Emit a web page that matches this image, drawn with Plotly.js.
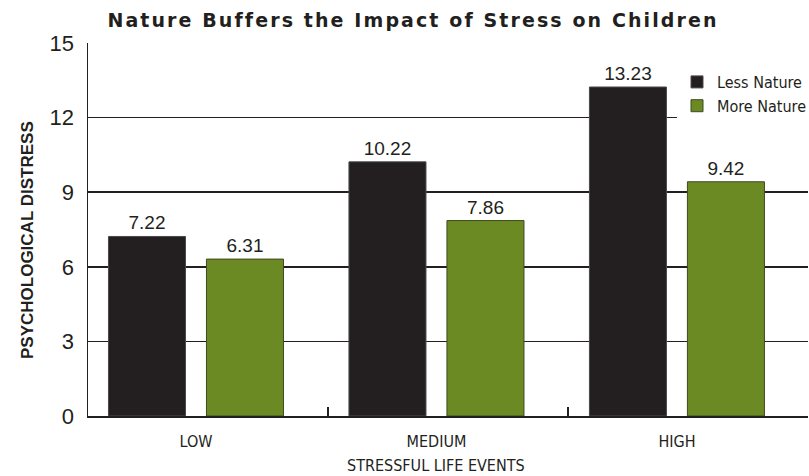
<!DOCTYPE html>
<html>
<head>
<meta charset="utf-8">
<script src="https://cdn.plot.ly/plotly-3.0.1.min.js"></script>
<style>
html,body{margin:0;padding:0;background:#fff;}
#chart{width:809px;height:476px;}
#chart .gtitle{letter-spacing:2.1px;}
</style>
</head>
<body>
<div id="chart"></div>
<script>
const categories = ['LOW', 'MEDIUM', 'HIGH'];
const lessNature = [7.22, 10.22, 13.23];
const moreNature = [6.31, 7.86, 9.42];
const seriesNames = ['Less Nature', 'More Nature'];
const yTicks = [0, 3, 6, 9, 12, 15];
const boundaryTicks = [1, 2, 3];

const ink = '#231f20';
const green = '#6b8a23';
const narrow = 'Liberation Sans Narrow, DejaVu Sans Condensed, Arial Narrow, sans-serif';
const sans = 'Liberation Sans, Arial, Helvetica, sans-serif';

const common = {
  type: 'bar',
  x: categories,
  texttemplate: '%{y:.2f}',
  textposition: 'outside',
  cliponaxis: false,
  textfont: {family: sans, size: 19, color: ink},
  hoverinfo: 'skip'
};

const traces = [
  Object.assign({}, common, {
    name: seriesNames[0], y: lessNature,
    marker: {color: ink, line: {color: '#4a4a4a', width: 1}}
  }),
  Object.assign({}, common, {
    name: seriesNames[1], y: moreNature,
    marker: {color: green, line: {color: '#3f4a20', width: 1}}
  }),
  {
    type: 'scatter', mode: 'markers', x: [], y: [],
    xaxis: 'x2', yaxis: 'y', showlegend: false, hoverinfo: 'skip'
  }
];

const layout = {
  width: 809, height: 476,
  margin: {l: 88, r: 1, t: 43, b: 60, pad: 0, autoexpand: false},
  paper_bgcolor: '#fff', plot_bgcolor: '#fff',
  barmode: 'group',
  bargap: 0.185,
  bargroupgap: 0.214,
  showlegend: true,
  legend: {
    x: (677 - 88) / 720, xanchor: 'left', y: 0.941, yanchor: 'top',
    bgcolor: '#fff', borderwidth: 0,
    font: {family: narrow, size: 16, color: ink},
    tracegroupgap: 0
  },
  title: {
    text: 'Nature Buffers the Impact of Stress on Children',
    font: {family: 'DejaVu Sans, sans-serif', size: 19, color: ink, weight: 'bold'},
    x: 413 / 809, xanchor: 'center', xref: 'container',
    y: 1 - 20/476, yanchor: 'middle', yref: 'container'
  },
  xaxis: {
    type: 'category',
    range: [-0.449, 2.545],
    showgrid: false, zeroline: false,
    showline: true, linecolor: ink, linewidth: 2,
    ticks: '', ticklabelstandoff: 10,
    tickfont: {family: narrow, size: 16, color: ink},
    fixedrange: true
  },
  xaxis2: {
    overlaying: 'x', anchor: 'y', side: 'bottom',
    range: [0, 3], tickvals: boundaryTicks,
    ticks: 'inside', ticklen: 9, tickwidth: 1.5, tickcolor: ink,
    showticklabels: false, showgrid: false, zeroline: false, showline: false,
    fixedrange: true
  },
  yaxis: {
    range: [0, 15],
    tickvals: yTicks,
    showgrid: true, gridcolor: ink, gridwidth: 1.5,
    zeroline: false,
    showline: true, linecolor: ink, linewidth: 1.5,
    ticks: '', ticklabelstandoff: 8,
    tickfont: {family: sans, size: 22, color: ink},
    fixedrange: true
  },
  annotations: [
    {
      text: 'STRESSFUL LIFE EVENTS', showarrow: false,
      xref: 'paper', yref: 'paper',
      x: (436 - 88) / 720, y: -(465 - 416) / 373, xanchor: 'center', yanchor: 'middle',
      font: {family: narrow, size: 16, color: ink}
    },
    {
      text: '<b>PSYCHOLOGICAL DISTRESS</b>', showarrow: false, textangle: -90,
      xref: 'paper', yref: 'paper',
      x: (27 - 88) / 720, y: 1 - (240 - 43) / 373, xanchor: 'center', yanchor: 'middle',
      font: {family: sans, size: 17, color: ink}
    }
  ]
};

Plotly.newPlot('chart', traces, layout, {displayModeBar: false, staticPlot: true});
</script>
</body>
</html>
